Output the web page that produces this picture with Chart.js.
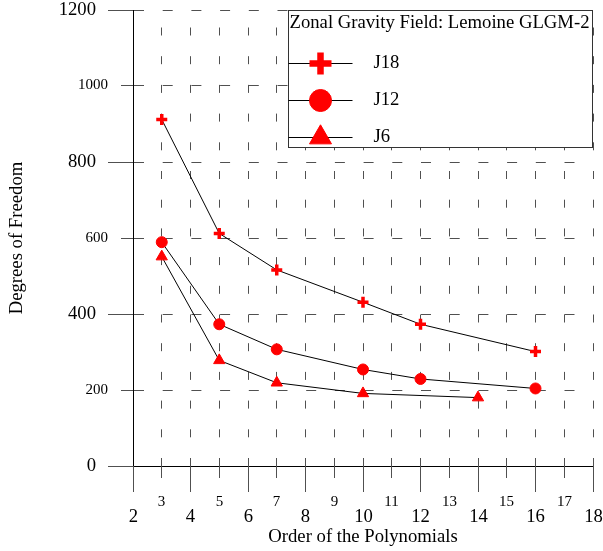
<!DOCTYPE html>
<html>
<head>
<meta charset="utf-8">
<script src="https://cdn.jsdelivr.net/npm/chart.js@4.4.0/dist/chart.umd.min.js"></script>
<style>
  html, body { margin: 0; padding: 0; background: #fff; }
</style>
</head>
<body>
<canvas id="chart" width="603" height="551"></canvas>
<script>
// data
const seriesNames = ['J18', 'J12', 'J6'];
const j18X = [3, 5, 7, 10, 12, 16];
const j18Y = [912, 612, 516, 431, 373, 301];
const j12X = [3, 5, 7, 10, 12, 16];
const j12Y = [589, 373, 307, 254, 229, 204];
const j6X = [3, 5, 7, 10, 14];
const j6Y = [551, 278, 219, 191, 180];

const xMin = 2, xMax = 18, xStep = 1;
const yMin = 0, yMax = 1200, yStep = 200;

const legendTitle = 'Zonal Gravity Field: Lemoine GLGM-2';
const xTitle = 'Order of the Polynomials';
const yTitle = 'Degrees of Freedom';

const serif = '"Liberation Serif", "DejaVu Serif", serif';
const bigFont = 18.7;
const smallFont = 15;
const gridColor = '#505050';
const tickColor = '#505050';
const red = '#ff0000';

function toPoints(xs, ys) {
  return xs.map((x, i) => ({ x: x, y: ys[i] }));
}

const markerStyles = ['cross', 'circle', 'triangle'];

function drawMarker(ctx, style, x, y, r, w) {
  ctx.save();
  ctx.fillStyle = red;
  ctx.strokeStyle = red;
  ctx.lineWidth = w;
  Chart.helpers.drawPoint(ctx, { pointStyle: style, radius: r, borderWidth: w, rotation: 0 }, x, y);
  ctx.restore();
}

// tick marks and the two rows of tick labels
const axisTicks = {
  id: 'axisTicks',
  afterDraw(chart) {
    const { ctx, chartArea } = chart;
    const x = chart.scales.x, y = chart.scales.y;
    ctx.save();
    ctx.strokeStyle = tickColor;
    ctx.lineWidth = 1;
    ctx.fillStyle = '#000';

    x.ticks.forEach(t => {
      const px = Math.round(x.getPixelForValue(t.value) - 0.5) + 0.5;
      const major = t.value % 2 === 0;
      ctx.beginPath();
      ctx.moveTo(px, chartArea.bottom);
      ctx.lineTo(px, chartArea.bottom + (major ? 26 : 12));
      ctx.stroke();
      ctx.textAlign = 'center';
      ctx.textBaseline = 'alphabetic';
      ctx.font = (major ? bigFont : smallFont) + 'px ' + serif;
      ctx.fillText(String(t.value), px, chartArea.bottom + (major ? 56 : 40));
    });

    y.ticks.forEach(t => {
      const py = Math.round(y.getPixelForValue(t.value) - 0.5) + 0.5;
      const major = t.value % 400 === 0;
      ctx.beginPath();
      ctx.moveTo(chartArea.left, py);
      ctx.lineTo(chartArea.left - (major ? 25 : 12), py);
      ctx.stroke();
      ctx.textAlign = 'right';
      ctx.textBaseline = 'middle';
      ctx.font = (major ? bigFont : smallFont) + 'px ' + serif;
      ctx.fillText(String(t.value), chartArea.left - (major ? 37 : 25), py);
    });
    ctx.restore();
  }
};

// boxed legend in the upper right corner
const boxLegend = {
  id: 'boxLegend',
  afterDraw(chart) {
    const { ctx, chartArea } = chart;
    const left = chartArea.right - 304.5, top = chartArea.top + 0.5;
    const w = 304, h = 137;
    ctx.save();
    ctx.fillStyle = '#fff';
    ctx.fillRect(left, top, w, h);
    ctx.strokeStyle = '#333';
    ctx.lineWidth = 1;
    ctx.strokeRect(left, top, w, h);

    ctx.fillStyle = '#000';
    ctx.font = bigFont + 'px ' + serif;
    ctx.textAlign = 'left';
    ctx.textBaseline = 'alphabetic';
    ctx.fillText(legendTitle, left + 1, top + 17);

    const rows = [52, 89, 126];
    chart.data.datasets.forEach((ds, i) => {
      const ry = Math.round(top + rows[i]) + 0.5;
      ctx.strokeStyle = '#000';
      ctx.lineWidth = 1;
      ctx.beginPath();
      ctx.moveTo(left, ry);
      ctx.lineTo(left + 64, ry);
      ctx.stroke();
      const big = [[11, 6.5], [11, 1], [12.7, 1]][i];
      drawMarker(ctx, markerStyles[i], left + 32, ry, big[0], big[1]);
      ctx.fillStyle = '#000';
      ctx.textBaseline = 'middle';
      ctx.fillText(ds.label, left + 85, ry);
    });
    ctx.restore();
  }
};

function makeSet(label, xs, ys, style, radius, bw) {
  return {
    label: label,
    data: toPoints(xs, ys),
    showLine: true,
    borderColor: '#000',
    borderWidth: 1,
    tension: 0,
    pointStyle: style,
    pointRadius: radius,
    pointBorderWidth: bw,
    pointBackgroundColor: red,
    pointBorderColor: red
  };
}

new Chart(document.getElementById('chart'), {
  type: 'scatter',
  data: {
    datasets: [
      makeSet(seriesNames[0], j18X, j18Y, 'cross', 5.5, 3.5),
      makeSet(seriesNames[1], j12X, j12Y, 'circle', 5.5, 1),
      makeSet(seriesNames[2], j6X, j6Y, 'triangle', 6.5, 1)
    ]
  },
  options: {
    responsive: false,
    animation: false,
    devicePixelRatio: 1,
    layout: { padding: { top: 10, right: 10, left: 0, bottom: 0 } },
    plugins: {
      legend: { display: false },
      tooltip: { enabled: false }
    },
    scales: {
      x: {
        type: 'linear',
        min: xMin,
        max: xMax,
        afterFit: (s) => { s.height = 85; },
        ticks: { display: false, stepSize: xStep },
        grid: { color: gridColor, drawTicks: false },
        border: { color: '#000', dash: [8, 20.7], dashOffset: 11.2 },
        title: {
          display: true,
          text: xTitle,
          color: '#000',
          font: { family: serif, size: bigFont },
          padding: { top: 0, bottom: 3 }
        }
      },
      y: {
        type: 'linear',
        min: yMin,
        max: yMax,
        afterFit: (s) => { s.width = 133; },
        ticks: { display: false, stepSize: yStep },
        grid: { color: gridColor, drawTicks: false },
        border: { color: '#000', dash: [10, 18.7] },
        title: {
          display: true,
          text: yTitle,
          color: '#000',
          font: { family: serif, size: bigFont },
          padding: { top: 6, bottom: 0 }
        }
      }
    }
  },
  plugins: [axisTicks, boxLegend]
});
</script>
</body>
</html>
